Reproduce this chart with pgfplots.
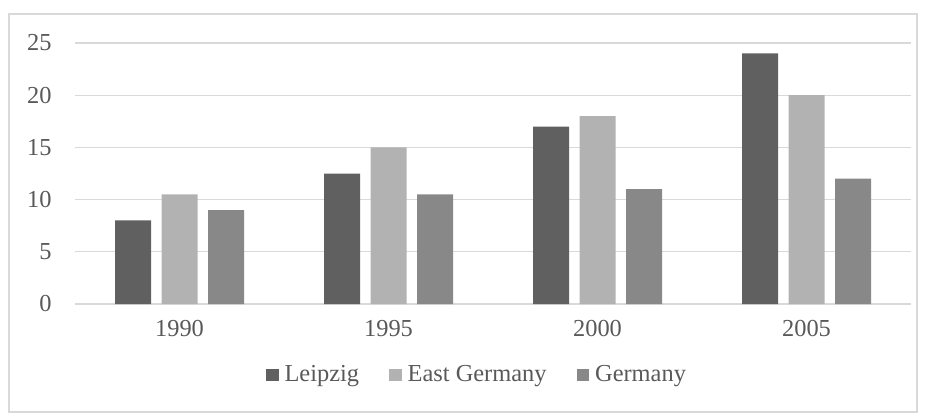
\documentclass[border=0pt]{standalone}
\usepackage{pgfplots}
\pgfplotsset{compat=1.18}
\usepackage{fontspec}
\setmainfont{Liberation Serif}
\definecolor{txt}{HTML}{595959}
\definecolor{gridc}{HTML}{D9D9D9}
\definecolor{cLeip}{HTML}{606060}
\definecolor{cEast}{HTML}{B2B2B2}
\definecolor{cGer}{HTML}{888888}
\begin{document}
\begin{tikzpicture}
\begin{axis}[
  at={(0pt,0pt)}, anchor=south west,
  scale only axis, width=418pt, height=130.5pt,
  ybar=5.25pt, bar width=18pt,
  xmin=-0.5, xmax=3.5, ymin=0, ymax=25,
  xtick={0,1,2,3}, xticklabels={1990,1995,2000,2005},
  ytick={0,5,10,15,20,25},
  axis line style={draw=none},
  major tick length=0pt,
  ymajorgrids, grid style={draw=gridc, line width=0.6pt},
  tick label style={font=\fontsize{12.2}{14}\selectfont, text=txt, /pgf/number format/assume math mode=true},
  yticklabel style={inner sep=0pt, anchor=east, xshift=-11.5pt},
  xticklabel style={inner sep=0pt, anchor=north, yshift=-8pt},
  legend style={at={(0.482,-0.272)}, anchor=center, draw=none, fill=none,
    legend columns=3, font=\fontsize{12.2}{14}\selectfont, text=txt,
    /tikz/every odd column/.append style={column sep=1pt},
    /tikz/every even column/.append style={column sep=13pt},
    inner sep=0pt, cells={anchor=west}},
  legend image code/.code={\fill[#1, draw=none] (0pt,-3.15pt) rectangle (6.3pt,3.15pt);},
  legend cell align=left,
]
\addplot[fill=cLeip, draw=none] coordinates {(0,8) (1,12.5) (2,17) (3,24)};
\addplot[fill=cEast, draw=none] coordinates {(0,10.5) (1,15) (2,18) (3,20)};
\addplot[fill=cGer, draw=none] coordinates {(0,9) (1,10.5) (2,11) (3,12)};
\legend{Leipzig, East Germany, Germany}
\end{axis}
\draw[gridc, line width=0.6pt] (-33pt,-54pt) rectangle (421pt,145pt);
\pgfresetboundingbox
\path[use as bounding box] (-37.5pt,-57pt) rectangle (425.5pt,152pt);
\end{tikzpicture}
\end{document}
